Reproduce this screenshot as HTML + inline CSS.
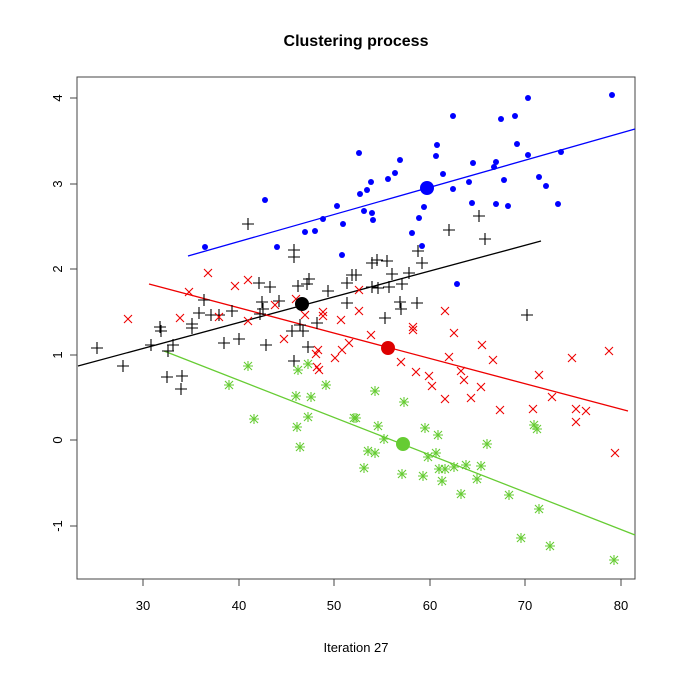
<!DOCTYPE html><html><head><meta charset="utf-8"><style>body{margin:0;background:#fff}svg{display:block}</style></head><body>
<svg id="s" width="675" height="675" xmlns="http://www.w3.org/2000/svg" font-family="Liberation Sans, sans-serif">
<rect width="675" height="675" fill="#fff"/>
<text x="356" y="46" font-size="16" font-weight="bold" text-anchor="middle">Clustering process</text>
<text x="356" y="652" font-size="13" text-anchor="middle">Iteration 27</text>
<rect x="77" y="77" width="558" height="502" fill="none" stroke="#444" stroke-width="1"/>
<g stroke="#444" stroke-width="1">
<line x1="143" y1="579" x2="621" y2="579"/>
<line x1="143" y1="579" x2="143" y2="586"/><line x1="239" y1="579" x2="239" y2="586"/><line x1="334" y1="579" x2="334" y2="586"/><line x1="430" y1="579" x2="430" y2="586"/><line x1="525" y1="579" x2="525" y2="586"/><line x1="621" y1="579" x2="621" y2="586"/>
<line x1="77" y1="98" x2="77" y2="526"/>
<line x1="70" y1="98" x2="77" y2="98"/><line x1="70" y1="184" x2="77" y2="184"/><line x1="70" y1="269" x2="77" y2="269"/><line x1="70" y1="355" x2="77" y2="355"/><line x1="70" y1="440" x2="77" y2="440"/><line x1="70" y1="526" x2="77" y2="526"/>
</g>
<g font-size="13" text-anchor="middle">
<text x="143" y="610">30</text><text x="239" y="610">40</text><text x="334" y="610">50</text><text x="430" y="610">60</text><text x="525" y="610">70</text><text x="621" y="610">80</text>
<text transform="translate(62,98) rotate(-90)">4</text><text transform="translate(62,184) rotate(-90)">3</text><text transform="translate(62,269) rotate(-90)">2</text><text transform="translate(62,355) rotate(-90)">1</text><text transform="translate(62,440) rotate(-90)">0</text><text transform="translate(62,526) rotate(-90)">-1</text>
</g>
<line x1="188" y1="256" x2="635" y2="129" stroke="#00f" stroke-width="1.3"/>
<line x1="78" y1="366" x2="541" y2="241" stroke="#000" stroke-width="1.3"/>
<line x1="149" y1="284" x2="628" y2="411" stroke="#e00" stroke-width="1.3"/>
<line x1="164" y1="351" x2="635" y2="535" stroke="#6c3" stroke-width="1.3"/>
<g id="pts"></g>
</svg>
<script>
var B=[[265,200],[337,206],[323,219],[343,224],[305,232],[315,231],[205,247],[277,247],[342,255],[612,95],[528,98],[453,116],[501,119],[515,116],[359,153],[437,145],[436,156],[517,144],[528,155],[561,152],[400,160],[473,163],[496,162],[494,167],[395,173],[388,179],[371,182],[367,190],[360,194],[443,174],[469,182],[504,180],[539,177],[546,186],[453,189],[424,207],[472,203],[496,204],[508,206],[558,204],[364,211],[372,213],[373,220],[419,218],[412,233],[422,246],[457,284]];
var K=[[248,224],[294,250],[294,257],[259,283],[270,287],[298,286],[309,279],[307,284],[352,275],[347,283],[328,291],[204,300],[262,302],[279,301],[263,309],[347,303],[232,311],[199,313],[211,315],[219,315],[260,314],[192,324],[317,323],[160,327],[300,325],[479,216],[449,230],[485,239],[418,251],[422,263],[372,263],[377,260],[387,261],[392,274],[409,273],[356,275],[372,287],[378,288],[389,287],[402,284],[400,302],[401,309],[417,303],[385,318],[527,315],[161,331],[192,328],[97,348],[123,366],[151,345],[173,345],[168,351],[224,343],[239,339],[266,345],[292,331],[303,331],[308,347],[294,361],[167,377],[182,376],[181,389]];
var R=[[208,273],[248,280],[235,286],[189,292],[128,319],[180,318],[219,317],[248,321],[275,305],[296,299],[305,315],[323,312],[323,316],[341,320],[359,290],[359,311],[445,311],[413,327],[284,339],[316,354],[318,350],[317,367],[319,370],[335,358],[342,350],[349,343],[371,335],[413,330],[454,333],[482,345],[401,362],[449,357],[493,360],[416,372],[429,376],[432,386],[461,371],[464,380],[481,387],[572,358],[609,351],[539,375],[445,399],[471,398],[552,397],[500,410],[533,409],[576,409],[586,411],[576,422],[615,453]];
var G=[[248,366],[229,385],[308,364],[298,370],[326,385],[296,396],[311,397],[254,419],[308,417],[297,427],[300,447],[354,418],[375,391],[404,402],[356,418],[378,426],[425,428],[438,435],[384,439],[368,451],[375,453],[436,453],[428,457],[487,444],[534,425],[537,429],[364,468],[402,474],[423,476],[439,469],[445,469],[454,467],[466,465],[481,466],[442,481],[477,479],[461,494],[509,495],[539,509],[521,538],[550,546],[614,560]];
var h='';
B.forEach(p=>h+=`<circle cx="${p[0]}" cy="${p[1]}" r="3" fill="#00f"/>`);
K.forEach(p=>h+=`<path d="M${p[0]-6} ${p[1]}h12M${p[0]} ${p[1]-6}v12" stroke="#000" stroke-width="1.1"/>`);
R.forEach(p=>h+=`<path d="M${p[0]-4} ${p[1]-4}l8 8M${p[0]-4} ${p[1]+4}l8 -8" stroke="#e00" stroke-width="1.1"/>`);
G.forEach(p=>h+=`<path d="M${p[0]-5} ${p[1]}h10M${p[0]} ${p[1]-5}v10M${p[0]-4} ${p[1]-4}l8 8M${p[0]-4} ${p[1]+4}l8 -8" stroke="#6c3" stroke-width="1.1"/>`);
h+='<circle cx="427" cy="188" r="7" fill="#00f"/><circle cx="302" cy="304" r="7" fill="#000"/><circle cx="388" cy="348" r="7" fill="#d00"/><circle cx="403" cy="444" r="7" fill="#6c3"/>';
document.getElementById('pts').innerHTML=h;
</script>
</body></html>
